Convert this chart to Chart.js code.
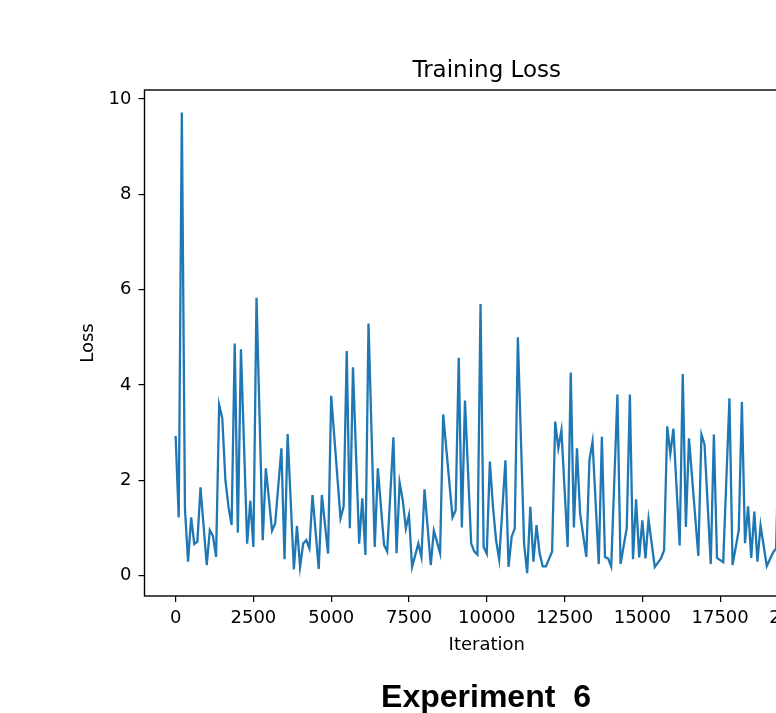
<!DOCTYPE html>
<html>
<head>
<meta charset="utf-8">
<title>Training Loss</title>
<script src="https://cdn.jsdelivr.net/npm/chart.js@4.4.1/dist/chart.umd.min.js"></script>
<style>
    html, body { margin: 0; padding: 0; background: #fff; overflow: hidden; }
    .chart-container { position: relative; width: 900px; height: 713px; }
    .caption {
        position: absolute; left: 286px; top: 678px; width: 400px;
        text-align: center; white-space: pre;
        font: bold 32px "Liberation Sans", Arial, sans-serif; line-height: 36px; color: #000;
    }
</style>
</head>
<body>
<div class="chart-container">
    <canvas id="chart"></canvas>
    <div class="caption">Experiment  6</div>
</div>
<script>
const iterations = [
    0, 100, 200, 300, 400, 500, 600, 700, 800, 1000, 1100, 1200, 1300, 1400, 1500, 1600, 1700, 1800, 1900, 2000,
    2100, 2300, 2400, 2500, 2600, 2800, 2900, 3100, 3200, 3400, 3500, 3600, 3800, 3900, 4000, 4100, 4200, 4300, 4400, 4600,
    4700, 4900, 5000, 5300, 5400, 5500, 5600, 5700, 5900, 6000, 6100, 6200, 6400, 6500, 6700, 6800, 7000, 7100, 7200, 7300,
    7400, 7500, 7600, 7800, 7900, 8000, 8200, 8300, 8500, 8600, 8900, 9000, 9100, 9200, 9300, 9500, 9600, 9700, 9800, 9900,
    10000, 10100, 10200, 10300, 10400, 10600, 10700, 10800, 10900, 11000, 11200, 11300, 11400, 11500, 11600, 11700, 11800, 11900, 12100, 12200,
    12300, 12400, 12600, 12700, 12800, 12900, 13000, 13200, 13300, 13400, 13600, 13700, 13800, 13900, 14000, 14200, 14300, 14500, 14600, 14700,
    14800, 14900, 15000, 15100, 15200, 15400, 15600, 15700, 15800, 15900, 16000, 16200, 16300, 16400, 16500, 16800, 16900, 17000, 17200, 17300,
    17400, 17600, 17800, 17900, 18100, 18200, 18300, 18400, 18500, 18600, 18700, 18800, 19000, 19200, 19300, 19400
];
const loss = [
    2.93, 1.22, 9.72, 1.4, 0.29, 1.22, 0.66, 0.71, 1.85, 0.22, 0.95, 0.83, 0.39, 3.58, 3.3, 2.0, 1.44, 1.06, 4.87, 0.9,
    4.75, 0.67, 1.57, 0.6, 5.83, 0.74, 2.25, 0.94, 1.09, 2.67, 0.34, 2.97, 0.13, 1.04, 0.18, 0.67, 0.74, 0.57, 1.69, 0.14,
    1.69, 0.46, 3.77, 1.2, 1.44, 4.71, 0.99, 4.37, 0.67, 1.62, 0.43, 5.29, 0.6, 2.25, 0.64, 0.5, 2.9, 0.47, 1.95, 1.58,
    0.99, 1.27, 0.18, 0.67, 0.39, 1.81, 0.22, 0.94, 0.47, 3.38, 1.22, 1.37, 4.57, 1.01, 3.67, 0.67, 0.5, 0.44, 5.7, 0.6,
    0.46, 2.39, 1.44, 0.74, 0.34, 2.42, 0.18, 0.81, 0.99, 5.0, 0.67, 0.05, 1.44, 0.29, 1.06, 0.46, 0.19, 0.19, 0.5, 3.23,
    2.67, 3.05, 0.6, 4.26, 1.01, 2.67, 1.3, 0.39, 2.42, 2.81, 0.24, 2.91, 0.39, 0.36, 0.19, 3.8, 0.24, 1.0, 3.8, 0.34,
    1.6, 0.38, 1.16, 0.36, 1.18, 0.18, 0.36, 0.53, 3.13, 2.56, 3.08, 0.63, 4.23, 1.02, 2.88, 0.41, 2.96, 2.75, 0.24, 2.96,
    0.37, 0.28, 3.72, 0.22, 0.95, 3.64, 0.68, 1.45, 0.37, 1.34, 0.29, 1.05, 0.2, 0.48, 0.57, 3.2
];
const xTicks = [0, 2500, 5000, 7500, 10000, 12500, 15000, 17500, 20000];
const yTicks = [0, 2, 4, 6, 8, 10];

const font = {family: "'DejaVu Sans', sans-serif", size: 18};

// matplotlib style box around the plot area
const frame = {
    id: 'frame',
    afterDatasetsDraw: (chart) => {
        const a = chart.chartArea;
        const ctx = chart.ctx;
        ctx.save();
        ctx.strokeStyle = '#000';
        ctx.lineWidth = 1.4;
        ctx.strokeRect(a.left, a.top, a.right - a.left, a.bottom - a.top);
        ctx.restore();
    }
};

let ctx = document.getElementById('chart').getContext('2d');
new Chart(ctx, {
    type: 'line',
    data: {
        datasets: [{
            label: 'Training Loss',
            data: iterations.map((x, i) => ({x: x, y: loss[i]})),
            borderColor: '#1f77b4',
            borderWidth: 2.3,
            pointRadius: 0,
            fill: false,
            tension: 0,
        }]
    },
    options: {
        responsive: true,
        maintainAspectRatio: false,
        devicePixelRatio: 1,
        animation: false,
        layout: {padding: {left: 0, right: 71, top: 53, bottom: 47}},
        plugins: {
            legend: {display: false},
            tooltip: {enabled: false},
            title: {
                display: true,
                fullSize: false,
                text: 'Training Loss',
                color: '#000',
                font: {family: font.family, size: 23, weight: 'normal'},
                padding: {top: 4, bottom: 5.4},
            },
        },
        scales: {
            x: {
                type: 'linear',
                min: -1000,
                max: 21000,
                afterBuildTicks: (scale) => { scale.ticks = xTicks.map(v => ({value: v})); },
                afterFit: (scale) => { scale.height = 70; },
                ticks: {
                    color: '#000', font: font, padding: 6, maxRotation: 0,
                    callback: (v) => String(v),
                },
                grid: {drawOnChartArea: false, drawTicks: true, tickLength: 6, color: '#000', lineWidth: 1.2},
                border: {display: false},
                title: {display: true, text: 'Iteration', color: '#000', font: font, padding: {top: 0, bottom: 10}},
            },
            y: {
                type: 'linear',
                min: -0.43,
                max: 10.19,
                afterBuildTicks: (scale) => { scale.ticks = yTicks.map(v => ({value: v})); },
                afterFit: (scale) => { scale.width = 144.5; },
                ticks: {
                    color: '#000', font: font, padding: 7,
                    callback: (v) => String(v),
                },
                grid: {drawOnChartArea: false, drawTicks: true, tickLength: 6, color: '#000', lineWidth: 1.2},
                border: {display: false},
                title: {display: true, text: 'Loss', color: '#000', font: font, padding: {top: 78, bottom: 0}},
            }
        }
    },
    plugins: [frame]
});
</script>
</body>
</html>
